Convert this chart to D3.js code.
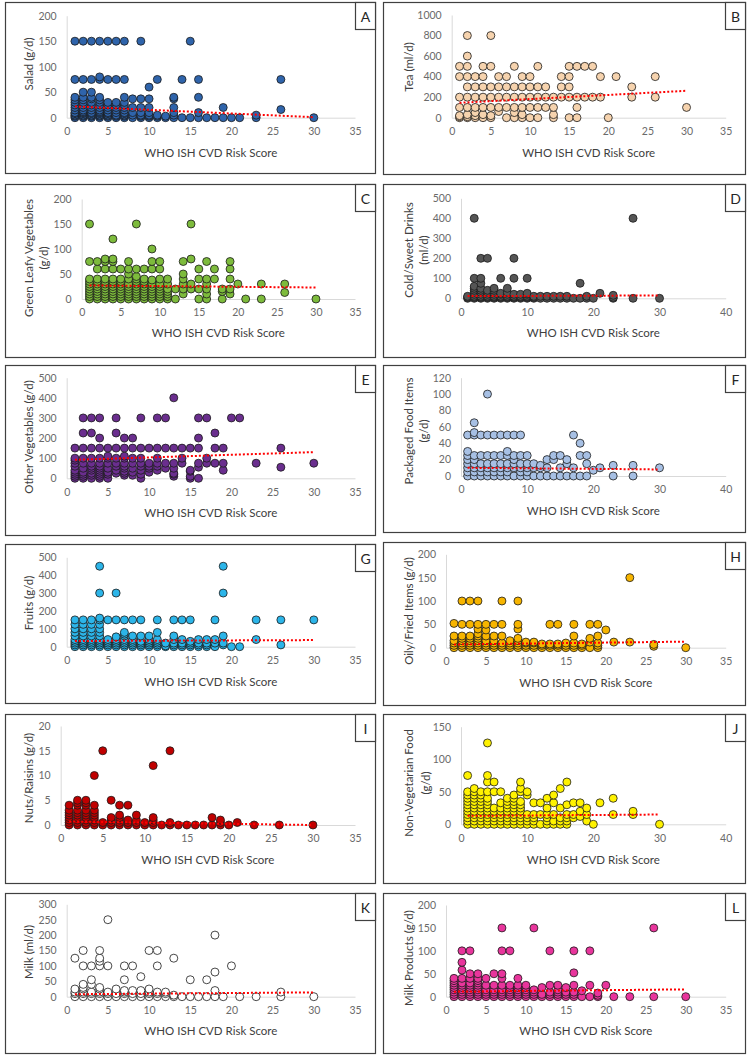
<!DOCTYPE html>
<html lang="en">
<head>
<meta charset="utf-8">
<title>Food intake vs WHO ISH CVD Risk Score</title>
<script src="https://d3js.org/d3.v7.min.js"></script>
<style>
  html, body { margin: 0; padding: 0; background: #fff; }
  svg { display: block; }
  .tick text { font-family: Lato, "Open Sans", sans-serif; font-size: 10.5px; fill: #6a6a6a; }
  .domain { stroke: #d9d9d9; stroke-width: 1px; }
  .ttl { font-family: Lato, "Open Sans", sans-serif; font-size: 11.5px; fill: #404040; }
  .tag { font-family: Lato, "Open Sans", sans-serif; font-size: 14px; fill: #262626; }
</style>
</head>
<body>
<svg id="chart" width="750" height="1060"></svg>
<script>
// each entry: [risk score, [intake values at that score]]
var saladData = [
  [1,[0,3,5,8,10,15,20,25,30,35,40,75,150]], [2,[0,3,5,8,10,12,15,20,25,30,35,40,50,75,150]],
  [3,[0,3,5,8,10,15,20,25,30,37,40,50,75,150]], [4,[0,3,5,8,10,12,15,20,25,30,35,40,75,80,150]],
  [5,[0,3,5,8,10,15,20,25,30,75,150]], [6,[0,3,5,10,15,20,25,30,75,150]],
  [7,[0,3,5,8,10,15,20,25,30,40,75,150]], [8,[0,5,10,20,37]], [9,[0,3,5,10,20,37,150]],
  [10,[0,3,5,10,20,37,60]], [11,[0,3,5,75]], [12,[0,3]], [13,[0,5,10,20,37,40]],
  [14,[0,75]], [15,[0,150]], [16,[0,10,40,75]], [17,[0]], [18,[0]], [19,[0,20]],
  [20,[0]], [21,[0]], [23,[0,5]], [26,[16,75]], [30,[0]]
];
var saladTrend = [[1,22],[30,1]];

var teaData = [
  [1,[0,10,20,100,200,400,500]], [2,[0,10,30,100,200,300,400,500,600,800]],
  [3,[0,20,50,100,200,300,400]], [4,[0,30,100,200,300,400,500]],
  [5,[0,20,100,200,300,500,800]], [6,[60,100,200,300,400]], [7,[0,100,200,300,400]],
  [8,[0,50,100,200,300,500]], [9,[0,30,100,200,300,400]], [10,[0,100,200,300,400]],
  [11,[0,100,200,300,500]], [12,[100,200,300]], [13,[0,30,100,200]], [14,[200,300,400]],
  [15,[0,200,300,400,500]], [16,[0,100,200,500]], [17,[200,500]], [18,[200,500]],
  [19,[200,400]], [20,[0]], [21,[400]], [23,[200,300]], [26,[200,400]], [30,[100]]
];
var teaTrend = [[1,145],[30,262]];

var greenLeafyData = [
  [1,[0,5,10,15,20,25,30,35,40,75,150]], [2,[0,5,10,15,20,25,30,35,40,60,75]],
  [3,[0,5,10,15,20,25,30,35,40,60,75,80]], [4,[0,5,10,15,20,25,30,35,40,60,75,80,120]],
  [5,[0,5,10,15,20,25,30,35,40,60]], [6,[0,5,10,15,20,25,30,40,50,60,75]],
  [7,[0,5,10,15,20,25,30,35,40,45,60,150]], [8,[0,5,10,15,20,25,30,35,40,60]],
  [9,[0,5,10,15,20,25,30,38,60,75,100]], [10,[0,5,10,15,20,25,30,40,60,75]],
  [11,[0,5,10,15,20,30,40]], [12,[0,20]], [13,[10,20,30,40,50,75]], [14,[20,30,80,150]],
  [15,[0,20,40,60]], [16,[0,10,20,30,40,75]], [17,[40,60]], [18,[0,15,20]],
  [19,[10,20,40,60,75]], [20,[30]], [21,[0]], [23,[0,30]], [26,[13,30]], [30,[0]]
];
var greenLeafyTrend = [[1,27],[30,23]];

var coldDrinkData = [
  [1,[0,5,10]], [2,[0,5,10,20,30,40,50,60,100,400]], [3,[0,5,10,20,30,40,50,75,100,200]],
  [4,[0,5,10,20,30,40,200]], [5,[0,5,10,20,30,40,50]], [6,[0,5,10,20,25,100]],
  [7,[0,5,10,20,30,50]], [8,[0,5,10,20,100,200]], [9,[0,5,10,20]], [10,[0,5,10,20,25,100]],
  [11,[0,5,10]], [12,[0,10]], [13,[0,10]], [14,[0,10]], [15,[0,10]], [16,[0,10]],
  [17,[0]], [18,[0,75]], [19,[0,10]], [20,[0]], [21,[25]], [23,[0,5,15]], [26,[0,400]], [30,[0]]
];
var coldDrinkTrend = [[1,11],[30,14]];

var otherVegData = [
  [1,[0,10,20,30,40,60,75,90,100,150]], [2,[0,10,20,30,50,75,100,150,225,300]],
  [3,[0,15,25,40,50,60,75,100,150,225,300]], [4,[0,10,20,30,40,50,60,75,100,150,200,300]],
  [5,[0,20,30,50,75,100,110,150]], [6,[25,40,60,75,100,150,225,300]],
  [7,[15,25,35,50,60,75,100,110,150,200]], [8,[15,30,50,75,100,150,200]],
  [9,[0,20,40,60,75,100,150,300]], [10,[30,50,60,75,150]], [11,[40,60,75,100,150,300]],
  [12,[50,75,150,300]], [13,[10,20,25,50,75,150,400]], [14,[75,100,150]],
  [15,[0,10,35,40,150]], [16,[0,55,75,150,200,300]], [17,[75,100,300]], [18,[75,150,225]],
  [19,[40,75,150]], [20,[300]], [21,[300]], [23,[75]], [26,[55,150]], [30,[75]]
];
var otherVegTrend = [[1,92],[30,130]];

var packagedData = [
  [1,[0,5,10,15,20,25,30,50]], [2,[0,5,10,15,20,25,50,53,65]], [3,[0,5,10,15,25,50]],
  [4,[0,5,10,15,25,50,100]], [5,[0,5,10,15,25,50]], [6,[0,5,10,15,25,50]],
  [7,[0,5,10,15,25,30,50]], [8,[0,10,15,20,25,50]], [9,[0,5,10,15,25,50]],
  [10,[0,5,10,15,25]], [11,[0,10,15]], [12,[0,10,13]], [13,[0,10,20]], [14,[0,20,25]],
  [15,[0,10,25]], [16,[0,15,20]], [17,[0,10,50]], [18,[0,25,40]], [19,[0,15,25]],
  [20,[7]], [21,[10]], [23,[0,13]], [26,[0,13]], [30,[10]]
];
var packagedTrend = [[1,10],[30,8]];

var fruitsData = [
  [1,[0,10,20,30,40,60,80,100,125,150]], [2,[0,10,20,30,40,60,80,100,125,150]],
  [3,[0,10,20,30,40,60,80,100,125,150]], [4,[0,10,20,30,40,60,80,100,125,150,160,300,450]],
  [5,[0,10,20,30,40,150]], [6,[0,10,20,30,40,55,150,300]], [7,[0,10,20,30,40,60,70,80,150]],
  [8,[0,10,20,30,40,60,150]], [9,[0,10,20,30,60,150]], [10,[0,10,20,30,40,60]],
  [11,[0,10,20,30,40,80,150]], [12,[0,5,20]], [13,[0,10,20,40,60,150]],
  [14,[0,10,20,40,150]], [15,[0,10,20,30,150]], [16,[0,10,20,40]], [17,[0,10,20,40]],
  [18,[0,20,40,150]], [19,[10,20,60,300,450]], [20,[0]], [21,[0]], [23,[40,150]],
  [26,[10,150]], [30,[150]]
];
var fruitsTrend = [[1,32],[30,37]];

var friedData = [
  [1,[0,5,10,15,25,52]], [2,[0,5,10,15,20,25,50,100]], [3,[0,5,10,15,20,25,50,100]],
  [4,[0,5,10,15,20,25,30,40,50,100]], [5,[0,5,10,15,25,38,50]], [6,[0,5,10,15,25,50]],
  [7,[0,5,10,25,50,100]], [8,[0,5,10,15]], [9,[0,5,10,15,20,40,50,100]], [10,[0,5,10,12]],
  [11,[0,5,10,12]], [12,[0,5,8]], [13,[0,5,8,50]], [14,[0,5,8,50]], [15,[0,5,10]],
  [16,[0,5,10,25,50]], [17,[0,5,8]], [18,[0,12,20,50]], [19,[0,5,10,25,50]], [20,[38]],
  [21,[12]], [23,[12,150]], [26,[3,7]], [30,[0]]
];
var friedTrend = [[1,7],[30,13]];

var nutsData = [
  [1,[0,0.5,1,1.5,2,2.5,3,4]], [2,[0,0.5,1,1.5,2,2.5,3,4,4.5,5]],
  [3,[0,0.5,1,1.5,2,2.5,3,4,4.5,5]], [4,[0,0.5,1,1.5,2,2.5,3,4,10]], [5,[0,0.5,15]],
  [6,[0,0.5,1,1.5,5]], [7,[0,0.5,1,1.5,2,4]], [8,[0,0.5,1,4]], [9,[0,0.5,1,2]],
  [10,[0,0.5]], [11,[0,0.5,1,1.5,12]], [12,[0]], [13,[0,0.5,15]], [14,[0]], [15,[0]],
  [16,[0]], [17,[0]], [18,[0,1.5]], [19,[0,0.5,1]], [20,[0]], [21,[0.5]], [23,[0]],
  [26,[0]], [30,[0]]
];
var nutsTrend = [[1,0.7],[30,0]];

var nonVegData = [
  [1,[0,5,10,15,20,25,30,35,40,45,50,75]], [2,[0,5,10,15,20,25,30,35,40,45,50,55]],
  [3,[0,5,10,15,20,25,30,35,40,45,50]], [4,[0,5,10,15,20,25,30,35,40,50,65,75,125]],
  [5,[0,5,10,15,20,25,50,65]], [6,[0,5,10,15,20,25,33,50]], [7,[0,5,10,15,20,25,30,35,40]],
  [8,[0,5,10,15,20,25,30,35,40,45]], [9,[0,5,10,15,20,25,30,35,50,55,65]],
  [10,[0,5,10,15,45,50]], [11,[0,5,10,15,33]], [12,[0,15,33]], [13,[0,5,10,15,25,40]],
  [14,[0,5,15,33,45]], [15,[0,5,10,25,55]], [16,[0,5,10,15,30,65]], [17,[10,15,33]],
  [18,[12,20,33]], [19,[5,15,25]], [20,[0]], [21,[33]], [23,[15,40]], [26,[15,20]], [30,[0]]
];
var nonVegTrend = [[1,13],[30,15]];

var milkData = [
  [1,[0,10,15,25,125]], [2,[0,10,15,25,30,40,100,150]], [3,[0,10,15,40,55,100]],
  [4,[0,10,15,25,30,100,115,125,150]], [5,[0,10,15,100,250]], [6,[0,10,25]],
  [7,[0,10,15,20,55,100]], [8,[0,10,20,100]], [9,[0,10,20,65]], [10,[0,10,15,25,150]],
  [11,[0,10,15,100,150]], [12,[0,10,15]], [13,[0,5,125]], [14,[0]], [15,[0,55]], [16,[0]],
  [17,[0,55]], [18,[0,20,80,200]], [19,[0]], [20,[100]], [21,[0]], [23,[0]], [26,[0,15]], [30,[0]]
];
var milkTrend = [[1,8],[30,14]];

var milkProdData = [
  [1,[0,5,10,15,20,25,30,35,40]], [2,[0,5,10,15,20,25,30,40,58,75,100]],
  [3,[0,5,10,15,20,25,30,40,50,100]], [4,[0,5,10,15,20,25,30,35,40,50]],
  [5,[0,5,10,15,25,40]], [6,[0,5,10,15,25,50]], [7,[0,5,10,15,25,40,50,100,150]],
  [8,[0,5,10,15,20,25,100]], [9,[0,5,10,15,20,25,40]], [10,[0,5,10,15,20,25]],
  [11,[0,5,10,15,150]], [12,[0,5,20]], [13,[0,5,10,25,100]], [14,[0,5,10,15,25]],
  [15,[0,5,10,20]], [16,[0,5,10,25,52,100]], [17,[0,13]], [18,[0,25,100]], [19,[0,3,8]],
  [20,[25]], [21,[0]], [23,[0]], [26,[0,150]], [30,[0]]
];
var milkProdTrend = [[1,11],[30,16]];

// tick labels
var xTicks35 = [0,5,10,15,20,25,30,35];
var xTicks40 = [0,10,20,30,40];
var yTicks200 = [0,50,100,150,200];
var yTicks1000 = [0,200,400,600,800,1000];
var yTicks500 = [0,100,200,300,400,500];
var yTicks120 = [0,20,40,60,80,100,120];
var yTicks20 = [0,5,10,15,20];
var yTicks150 = [0,50,100,150];
var yTicks300 = [0,50,100,150,200,250,300];

var xTitle = "WHO ISH CVD Risk Score";

// layout of each panel: frame, plot area (px), label positions
var panels = [
  {tag:"A", data:saladData, trend:saladTrend, fill:"#2f64ab", box:[5,2,375,173], px:[66.7,355], py:[117.7,15.7], xt:xTicks35, yt:yTicks200, lab:["Salad (g/d)"], labX:[28], labY:64, titleY:152},
  {tag:"B", data:teaData, trend:teaTrend, fill:"#f6d3ae", box:[383,2,745,174], px:[451.7,725.7], py:[117.7,15], xt:xTicks35, yt:yTicks1000, lab:["Tea (ml/d)"], labX:[408], labY:67, titleY:152},
  {tag:"C", data:greenLeafyData, trend:greenLeafyTrend, fill:"#7dbb3c", box:[5,184,375,357], px:[81.7,355], py:[299,199], xt:xTicks35, yt:yTicks200, lab:["Green Leafy Vegetables","(g/d)"], labX:[28,43], labY:258, titleY:332},
  {tag:"D", data:coldDrinkData, trend:coldDrinkTrend, fill:"#555555", box:[383,184,745,357], px:[461,725.7], py:[298.3,198.3], xt:xTicks40, yt:yTicks500, lab:["Cold/Sweet Drinks","(ml/d)"], labX:[408,423], labY:250, titleY:332},
  {tag:"E", data:otherVegData, trend:otherVegTrend, fill:"#6a2e8e", box:[5,365,375,535], px:[66.7,355], py:[478.3,377.7], xt:xTicks35, yt:yTicks500, lab:["Other Vegetables (g/d)"], labX:[28], labY:437, titleY:512},
  {tag:"F", data:packagedData, trend:packagedTrend, fill:"#a7c0e4", box:[383,365,745,532], px:[461,725.7], py:[476,377.7], xt:xTicks40, yt:yTicks120, lab:["Packaged Food Items","(g/d)"], labX:[408,423], labY:431, titleY:510},
  {tag:"G", data:fruitsData, trend:fruitsTrend, fill:"#2cb5e9", box:[5,544,375,703], px:[66.7,355], py:[646.7,557.3], xt:xTicks35, yt:yTicks500, lab:["Fruits (g/d)"], labX:[28], labY:603, titleY:681},
  {tag:"H", data:friedData, trend:friedTrend, fill:"#f7b500", box:[383,542,745,705], px:[446,725.7], py:[647.7,554.3], xt:xTicks35, yt:yTicks200, lab:["Oily/Fried Items (g/d)"], labX:[408], labY:611, titleY:682},
  {tag:"I", data:nutsData, trend:nutsTrend, fill:"#c00000", box:[5,714,375,883], px:[60.7,355], py:[825,726], xt:xTicks35, yt:yTicks20, lab:["Nuts/Raisins (g/d)"], labX:[28], labY:778, titleY:859},
  {tag:"J", data:nonVegData, trend:nonVegTrend, fill:"#fff200", box:[383,714,745,883], px:[461,725.7], py:[824.3,726.7], xt:xTicks40, yt:yTicks150, lab:["Non-Vegetarian Food","(g/d)"], labX:[408,425], labY:783, titleY:859},
  {tag:"K", data:milkData, trend:milkTrend, fill:"#ffffff", box:[5,893,375,1053], px:[66.7,355], py:[996.7,904.3], xt:xTicks35, yt:yTicks300, lab:["Milk (ml/d)"], labX:[28], labY:952, titleY:1030},
  {tag:"L", data:milkProdData, trend:milkProdTrend, fill:"#e8359c", box:[383,893,745,1053], px:[446,725.7], py:[996.7,905], xt:xTicks35, yt:yTicks200, lab:["Milk Products (g/d)"], labX:[408], labY:958, titleY:1030}
];

var svg = d3.select("#chart");

panels.forEach(function(p) {
  var g = svg.append("g");
  var b = p.box;

  // frame
  g.append("rect")
    .attr("x", b[0] + 0.5).attr("y", b[1] + 0.5)
    .attr("width", b[2] - b[0]).attr("height", b[3] - b[1])
    .attr("fill", "#fff").attr("stroke", "#404040").attr("stroke-width", 1.2);

  var x = d3.scaleLinear().domain([0, d3.max(p.xt)]).range(p.px);
  var y = d3.scaleLinear().domain([0, d3.max(p.yt)]).range(p.py);

  g.append("g")
    .attr("transform", "translate(0," + p.py[0] + ")")
    .call(d3.axisBottom(x).tickValues(p.xt).tickFormat(d3.format("d"))
      .tickSize(0).tickSizeOuter(0).tickPadding(10));

  g.append("g")
    .attr("transform", "translate(" + p.px[0] + ",0)")
    .call(d3.axisLeft(y).tickValues(p.yt).tickFormat(d3.format("d"))
      .tickSize(0).tickSizeOuter(0).tickPadding(10));

  // x title
  g.append("text").attr("class", "ttl")
    .attr("x", (p.px[0] + p.px[1]) / 2).attr("y", p.titleY)
    .attr("text-anchor", "middle").attr("dominant-baseline", "central")
    .text(xTitle);

  // y title (one or two lines)
  p.lab.forEach(function(t, i) {
    g.append("text").attr("class", "ttl")
      .attr("transform", "translate(" + p.labX[i] + "," + p.labY + ") rotate(-90)")
      .attr("text-anchor", "middle").attr("dominant-baseline", "central")
      .text(t);
  });

  // points
  var pts = [];
  p.data.forEach(function(d) {
    d[1].forEach(function(v) { pts.push([d[0], v]); });
  });
  g.append("g").selectAll("circle")
    .data(pts).enter().append("circle")
    .attr("cx", function(d) { return x(d[0]); })
    .attr("cy", function(d) { return y(d[1]); })
    .attr("r", 4)
    .attr("fill", p.fill)
    .attr("stroke", "#1a1a1a").attr("stroke-width", 0.8);

  // linear trend line
  g.append("path")
    .datum(p.trend)
    .attr("d", d3.line().x(function(d) { return x(d[0]); }).y(function(d) { return y(d[1]); }))
    .attr("fill", "none").attr("stroke", "#ff0000")
    .attr("stroke-width", 2).attr("stroke-dasharray", "2,2");

  // panel letter box
  g.append("rect")
    .attr("x", b[2] - 19.5).attr("y", b[1] + 0.5)
    .attr("width", 20).attr("height", 27)
    .attr("fill", "#fff").attr("stroke", "#404040").attr("stroke-width", 1.2);
  g.append("text").attr("class", "tag")
    .attr("x", b[2] - 9.5).attr("y", b[1] + 14)
    .attr("text-anchor", "middle").attr("dominant-baseline", "central")
    .text(p.tag);
});
</script>
</body>
</html>
